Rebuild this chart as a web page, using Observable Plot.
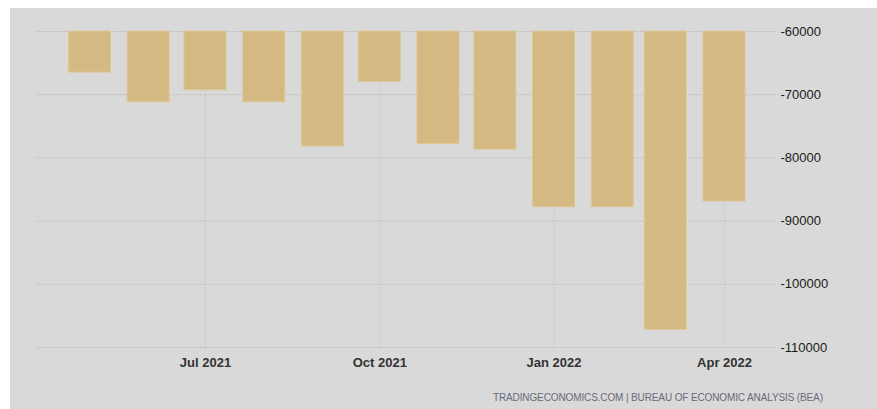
<!DOCTYPE html>
<html>
<head>
<meta charset="utf-8">
<script src="https://cdn.jsdelivr.net/npm/d3@7"></script>
<script src="https://cdn.jsdelivr.net/npm/@observablehq/plot@0.6"></script>
<style>
  html, body { margin: 0; padding: 0; background: #ffffff; }
  #wrap { position: relative; width: 877px; height: 409px; overflow: hidden; }
  #panel { position: absolute; left: 10px; top: 8px; right: 0; bottom: 0; background: #d9d9d9; }
  #chart { position: absolute; left: 0; top: 0; }
</style>
</head>
<body>
<div id="wrap"><div id="panel"></div><div id="chart"></div></div>
<script>
const months = ["2021-05-01","2021-06-01","2021-07-01","2021-08-01","2021-09-01","2021-10-01",
                "2021-11-01","2021-12-01","2022-01-01","2022-02-01","2022-03-01","2022-04-01"];
const values = [-66500, -71200, -69300, -71200, -78200, -68000,
                -77800, -78700, -87800, -87800, -107200, -86900];
const baseline = -60000;
const yTicks = [-60000, -70000, -80000, -90000, -100000, -110000];
const xTickDates = ["2021-07-01","2021-10-01","2022-01-01","2022-04-01"];
const xTickLabels = ["Jul 2021","Oct 2021","Jan 2022","Apr 2022"];
const source = "TRADINGECONOMICS.COM | BUREAU OF ECONOMIC ANALYSIS (BEA)";

const DAY = 864e5;
const data = months.map((m, i) => ({date: new Date(m + "T00:00Z"), value: values[i]}));
const tickDates = xTickDates.map(d => new Date(d + "T00:00Z"));
const halfBar = 11.1 * DAY;

const plot = Plot.plot({
  width: 877,
  height: 409,
  marginLeft: 36,
  marginRight: 102,
  marginTop: 31,
  marginBottom: 62,
  style: {background: "transparent", fontFamily: "'Liberation Sans', Arial, sans-serif"},
  x: {type: "time", domain: [new Date("2021-04-02T19:00Z"), new Date("2022-04-27T22:00Z")]},
  y: {domain: [-110000, -60000]},
  marks: [
    Plot.gridY(yTicks, {stroke: "#b8b8b8", strokeOpacity: 1, strokeDasharray: "1,1"}),
    Plot.gridX(tickDates, {stroke: "#c4c4c4", strokeOpacity: 1, strokeDasharray: "1,1"}),
    Plot.axisX(tickDates, {
      tickSize: 4, tickPadding: 6, stroke: "#c4c4c4", strokeDasharray: "1,1",
      tickFormat: d => xTickLabels[tickDates.findIndex(t => +t === +d)],
      fontSize: 13, fontWeight: "bold", fill: "#333333", label: null
    }),
    Plot.axisY(yTicks, {
      anchor: "right", tickSize: 0, tickPadding: 5,
      tickFormat: d => String(d), fontSize: 13, fill: "#1a1a1a", label: null
    }),
    Plot.rect(data, {
      x1: d => new Date(+d.date - halfBar),
      x2: d => new Date(+d.date + halfBar),
      y1: () => baseline,
      y2: "value",
      fill: "#d4b982",
      stroke: "#dec897",
      strokeWidth: 1
    })
  ]
});

const svg = d3.select(plot);
svg.append("text")
  .attr("x", 823)
  .attr("y", 401)
  .attr("text-anchor", "end")
  .attr("font-size", 10)
  .attr("font-family", "'Liberation Sans', Arial, sans-serif")
  .attr("fill", "#6a6a78")
  .attr("textLength", 330)
  .attr("lengthAdjust", "spacing")
  .text(source);

document.getElementById("chart").appendChild(plot);
</script>
</body>
</html>
